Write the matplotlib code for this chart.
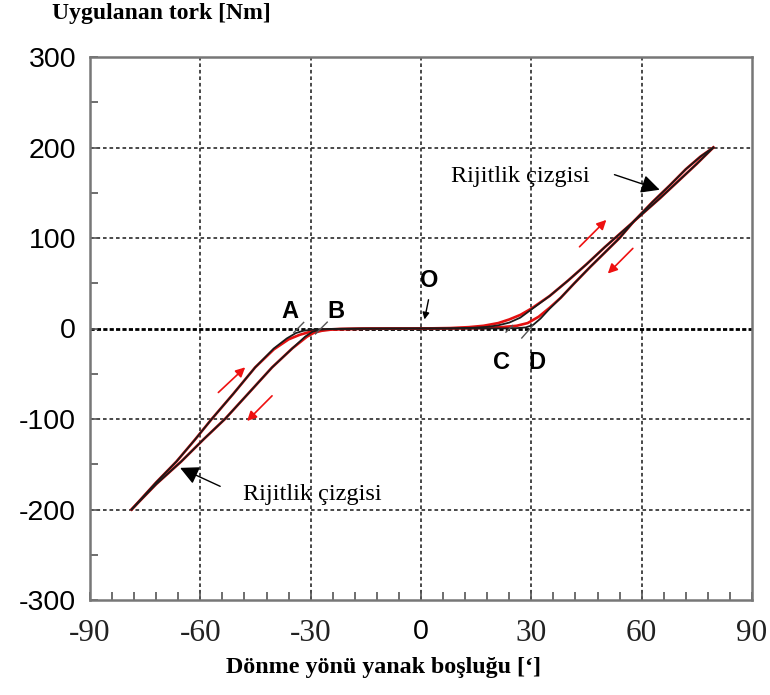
import matplotlib
matplotlib.use("Agg")
from matplotlib import pyplot as plt
from matplotlib.ticker import MultipleLocator
import numpy as np

# black trace: increasing torque (upper-left branch) and decreasing torque
blk_up_x = [-78.7, -72.0, -66.5, -61.5, -56.9, -51.0, -45.1, -40.0, -36.5, -34.0, -32.0, -29.0, -24.0, -16.0, -8.0, 0.0,
            8.0, 14.0, 18.0, 21.0, 24.0, 27.0, 30.0, 35.0, 40.0, 45.0, 50.0, 55.0, 60.0, 65.0, 70.0, 75.0, 79.5]
blk_up_y = [-200, -170, -147, -123, -100, -72, -43, -22, -11, -5, -2.5, -1, -0.4, -0.1, 0, 0,
            0.2, 0.8, 1.8, 3.5, 6.5, 12, 21, 36, 53, 71, 90, 108, 126, 144, 163, 182, 200]
blk_dn_x = [79.5, 76.0, 72.0, 67.6, 63.0, 58.0, 54.0, 50.0, 46.0, 41.7, 38.0, 35.0, 32.5, 30.5, 28.5, 26.0, 22.0, 15.0, 0.0,
            -16.0, -24.0, -27.5, -29.5, -31.5, -35.0, -40.5, -47.0, -53.3, -59.0, -65.2, -72.0, -78.7]
blk_dn_y = [200, 190, 176, 158, 140, 119, 100, 84, 68, 50, 34, 22, 11, 4, 1.2, 0.4, 0.1, 0, 0,
            -0.2, -0.5, -1.3, -3.5, -9, -22, -43, -72, -100, -122, -147, -172, -200]

# red trace (second run), same loop with softer knees
red_up_x = [-78.7, -72.0, -66.5, -61.5, -56.9, -51.0, -45.1, -40.0, -36.0, -33.0, -30.0, -27.0, -22.0, -14.0, 0.0,
            8.0, 13.0, 17.0, 21.0, 24.0, 27.0, 30.0, 35.0, 40.0, 45.0, 50.0, 55.0, 60.0, 65.0, 70.0, 75.0, 79.5]
red_up_y = [-200, -170, -147, -123, -100, -72, -43, -23, -12, -7, -3.5, -1.5, -0.5, -0.1, 0,
            0.5, 1.5, 3, 6, 10, 15, 22, 36, 53, 71, 90, 108, 126, 144, 163, 182, 200]
red_dn_x = [79.5, 76.0, 72.0, 67.6, 63.0, 58.0, 54.0, 50.0, 46.0, 41.7, 38.0, 35.0, 32.0, 29.0, 26.0, 22.0, 17.0, 10.0, 0.0,
            -16.0, -24.0, -27.0, -29.0, -31.0, -35.0, -40.5, -47.0, -53.3, -59.0, -65.2, -72.0, -78.7]
red_dn_y = [200, 190, 176, 158, 140, 119, 100, 84, 68, 50, 34, 23, 13, 6, 3, 1.5, 0.6, 0.2, 0,
            -0.3, -1, -2.5, -4.5, -9, -22, -43, -72, -100, -122, -147, -172, -200]

# short extensions of the stiffness lines through A, B, C, D
ext_x0 = [-34.6, -28.7, 23.1, 27.4]
ext_y0 = [-4.5, -6.0, -4.0, -10.5]
ext_x1 = [-31.9, -25.5, 24.9, 30.4]
ext_y1 = [6.7, 7.0, 3.3, 3.3]

# point labels
pt_names = ["A", "B", "O", "C", "D"]
pt_x = [-35.7, -23.2, 2.2, 21.8, 31.4]
pt_y = [18.9, 18.9, 53.3, -37.8, -37.8]

# direction arrows (tail -> head)
dir_x0 = [-55.1, -40.5, 43.1, 57.6]
dir_y0 = [-70.7, -74.4, 90.3, 88.5]
dir_x1 = [-47.8, -47.3, 50.4, 50.8]
dir_y1 = [-42.9, -102.2, 120.0, 60.7]

# "Rijitlik çizgisi" callouts: text position, arrow tail and head
note_text = "Rijitlik çizgisi"
note_x = [-48.3, 8.2]
note_y = [-183.0, 167.8]
note_tail_x = [-54.6, 52.6]
note_tail_y = [-174.4, 170.0]
note_head_x = [-65.5, 64.9]
note_head_y = [-154.0, 153.3]

x_ticks = [-90, -60, -30, 0, 30, 60, 90]
x_ticklabels = ["-90", "-60", "-30", "0", "30", "60", "90"]
y_ticks = [-300, -200, -100, 0, 100, 200, 300]

fig = plt.figure(figsize=(7.7, 6.95), dpi=100)
ax = fig.add_axes([90 / 770, 1 - 600 / 695, (752 - 90) / 770, (600 - 57) / 695])

ax.set_xlim(-90, 90)
ax.set_ylim(-300, 300)

# grid
for gx in [-60, -30, 0, 30, 60]:
    ax.axvline(gx, color="#3a3a3a", lw=1.3, ls=(0, (2, 1.6)), zorder=1)
for gy in [-200, -100, 100, 200]:
    ax.axhline(gy, color="#3a3a3a", lw=1.3, ls=(0, (2, 1.6)), zorder=1)
ax.axhline(0, color="black", lw=2.0, ls=(0, (1.5, 0.8)), zorder=1)

# curves
ax.plot(red_up_x, red_up_y, color="#e41010", lw=1.9, zorder=3)
ax.plot(red_dn_x, red_dn_y, color="#e41010", lw=1.9, zorder=3)
ax.plot(blk_up_x, blk_up_y, color="#1a1a1a", lw=1.3, zorder=4)
ax.plot(blk_dn_x, blk_dn_y, color="#1a1a1a", lw=1.3, zorder=4)

for i in range(len(ext_x0)):
    ax.plot([ext_x0[i], ext_x1[i]], [ext_y0[i], ext_y1[i]], color="#555555", lw=1.0, zorder=4)

for name, px, py in zip(pt_names, pt_x, pt_y):
    ax.text(px, py, name, fontsize=17, fontweight="bold", family="Liberation Sans",
            ha="center", va="center", zorder=5)
# O arrow
ax.annotate("", xy=(0.8, 7), xytext=(2.2, 34.8),
            arrowprops=dict(arrowstyle="-|>", color="black", lw=1.0, mutation_scale=10), zorder=5)

for i in range(len(dir_x0)):
    ax.annotate("", xy=(dir_x1[i], dir_y1[i]), xytext=(dir_x0[i], dir_y0[i]),
                arrowprops=dict(arrowstyle="-|>", color="#ee1111", lw=1.2, mutation_scale=14,
                                shrinkA=0, shrinkB=0), zorder=5)

for i in range(len(note_x)):
    ax.text(note_x[i], note_y[i], note_text, fontsize=17.5, family="Liberation Serif",
            ha="left", va="center", zorder=5)
    ax.annotate("", xy=(note_head_x[i], note_head_y[i]), xytext=(note_tail_x[i], note_tail_y[i]),
                arrowprops=dict(arrowstyle="-|>", color="black", lw=1.0, mutation_scale=28,
                                shrinkA=0, shrinkB=0), zorder=5)

# axes frame and ticks
for side in ["left", "bottom", "right", "top"]:
    ax.spines[side].set_color("#777777")
    ax.spines[side].set_linewidth(1.8)

ax.set_xticks(x_ticks)
ax.set_yticks(y_ticks)
ax.xaxis.set_minor_locator(MultipleLocator(6))
ax.yaxis.set_minor_locator(MultipleLocator(50))
ax.tick_params(which="both", direction="in", color="#555555", width=1.2, top=False, right=False)
ax.tick_params(which="major", length=6)
ax.tick_params(which="minor", length=5.5)
ax.tick_params(axis="y", pad=10)
ax.tick_params(axis="x", pad=14)

ax.set_yticklabels([str(v) for v in y_ticks], fontsize=20.5, family="Liberation Sans")
ax.set_xticklabels(x_ticklabels, fontsize=22.5, family="Liberation Serif", color="#222222")
zero_lbl = ax.get_xticklabels()[3]
zero_lbl.set_family("Liberation Sans")
zero_lbl.set_fontsize(20.5)
zero_lbl.set_color("black")

fig.text(52 / 770, 1 - 14 / 695, "Uygulanan tork [Nm]", fontsize=17, fontweight="bold",
         family="Liberation Serif", ha="left", va="center")
fig.text(384 / 770, 1 - 668 / 695, "Dönme yönü yanak boşluğu [‘]", fontsize=17.3, fontweight="bold",
         family="Liberation Serif", ha="center", va="center")

fig.savefig("out.png", dpi=100)
